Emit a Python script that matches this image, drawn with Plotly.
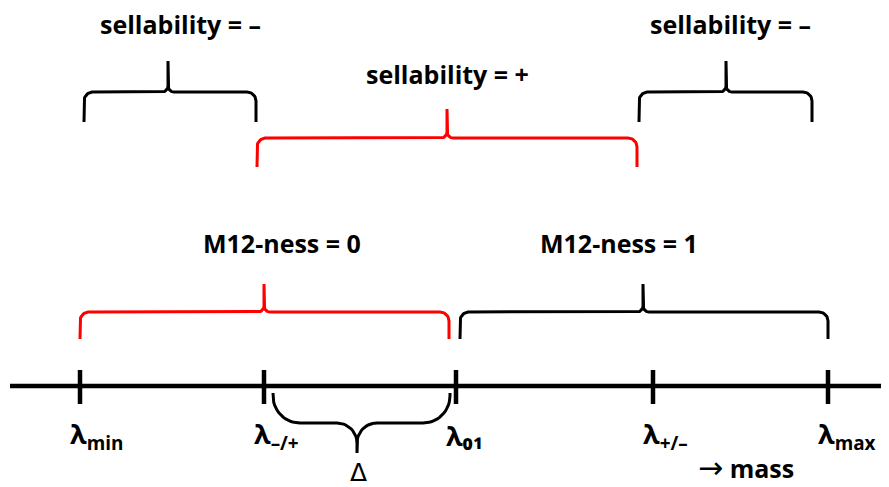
import math
import plotly.graph_objects as go

# ---- data ----
lambda_labels = ["λ<sub>min</sub>", "λ<sub>–/+</sub>", "λ₀₁", "λ<sub>+/–</sub>", "λ<sub>max</sub>"]
lambda_pos = [80, 264, 456, 653, 828]

brace_labels = ["sellability = –", "sellability = +", "sellability = –", "M12-ness = 0", "M12-ness = 1"]
brace_left = [84, 257, 639, 80, 460]
brace_right = [256, 637, 812, 449, 828]
brace_tip = [168, 447, 726, 264, 643]
brace_colors = ["black", "red", "black", "red", "black"]
brace_end_y = [122, 167, 122, 339, 339]
brace_mid_y = [92, 138, 92, 312, 312]
brace_tip_y = [61, 109, 61, 284, 284]
label_x = [180, 447, 730, 282, 619]
label_y = [24, 74, 24, 243, 243]

AXIS_Y = 386
FONT = "Open Sans"
PAGE_MARGIN = 8  # browser default body margin


def brace_points(x0, x1, xc, y_end, y_mid, y_tip, rc, rk, n=14):
    s = 1 if y_end > y_mid else -1
    xs, ys = [x0], [y_end]
    cx, cy = x0 + rc, y_mid + s * rc
    for i in range(n + 1):
        t = math.pi / 2 * i / n
        xs.append(cx - rc * math.cos(t)); ys.append(cy - s * rc * math.sin(t))
    cx, cy = xc - rk, y_mid - s * rk
    for i in range(n + 1):
        t = math.pi / 2 * i / n
        xs.append(cx + rk * math.sin(t)); ys.append(cy + s * rk * math.cos(t))
    xs.append(xc); ys.append(y_tip)
    cx, cy = xc + rk, y_mid - s * rk
    for i in range(n + 1):
        t = math.pi / 2 * i / n
        xs.append(cx - rk * math.cos(t)); ys.append(cy + s * rk * math.sin(t))
    cx, cy = x1 - rc, y_mid + s * rc
    for i in range(n + 1):
        t = math.pi / 2 * i / n
        xs.append(cx + rc * math.sin(t)); ys.append(cy - s * rc * math.cos(t))
    xs.append(x1); ys.append(y_end)
    return xs, ys


fig = go.Figure()

# main axis
fig.add_trace(go.Scatter(x=[10, 889], y=[AXIS_Y, AXIS_Y], mode="lines",
                         line=dict(color="black", width=4.5), hoverinfo="skip"))
# ticks
tx, ty = [], []
for p in lambda_pos:
    tx += [p, p, None]
    ty += [370, 404, None]
fig.add_trace(go.Scatter(x=tx, y=ty, mode="lines",
                         line=dict(color="black", width=4.5), hoverinfo="skip"))

# braces
for i in range(len(brace_labels)):
    bx, by = brace_points(brace_left[i], brace_right[i], brace_tip[i],
                          brace_end_y[i], brace_mid_y[i], brace_tip_y[i], 9, 6)
    fig.add_trace(go.Scatter(x=bx, y=by, mode="lines",
                             line=dict(color=brace_colors[i], width=3), hoverinfo="skip"))
    fig.add_annotation(x=label_x[i], y=label_y[i], text="<b>" + brace_labels[i] + "</b>",
                       showarrow=False, xanchor="center", yanchor="middle",
                       font=dict(family=FONT, size=25, color="black"))

# delta brace between lambda_-/+ and lambda_01
dx, dy = brace_points(lambda_pos[1] + 9, lambda_pos[2] - 6, 357, 393, 423, 453, 27, 20)
fig.add_trace(go.Scatter(x=dx, y=dy, mode="lines",
                         line=dict(color="black", width=3), hoverinfo="skip"))
fig.add_annotation(x=358, y=472, text="Δ", showarrow=False,
                   xanchor="center", yanchor="middle",
                   font=dict(family="DejaVu Sans", size=25, color="black"))

# lambda labels
for p, lab in zip(lambda_pos, lambda_labels):
    fig.add_annotation(x=p - 12, y=435, text="<b>" + lab + "</b>", showarrow=False,
                       xanchor="left", yanchor="middle",
                       font=dict(family=FONT, size=27, color="black"))

fig.add_annotation(x=696, y=467,
                   text="<span style='font-family:DejaVu Sans;font-size:30px'>→</span><b> mass</b>",
                   showarrow=False, xanchor="left", yanchor="middle",
                   font=dict(family=FONT, size=25, color="black"))

fig.update_layout(width=889 - PAGE_MARGIN, height=487 - PAGE_MARGIN,
                  margin=dict(l=0, r=0, t=0, b=0),
                  paper_bgcolor="white", plot_bgcolor="white", showlegend=False,
                  xaxis=dict(range=[PAGE_MARGIN, 889], visible=False, fixedrange=True),
                  yaxis=dict(range=[487, PAGE_MARGIN], visible=False, fixedrange=True))

fig.write_html("out.html")
